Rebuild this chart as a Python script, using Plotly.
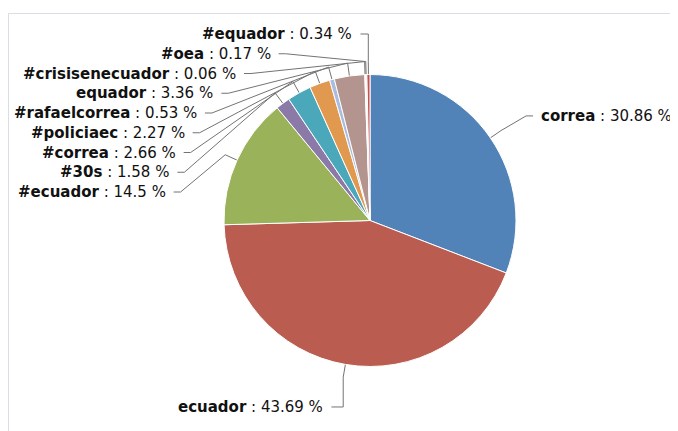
import math
import plotly.graph_objects as go

# ---- data ----
labels = ["correa", "ecuador", "#ecuador", "#30s", "#correa", "#policiaec",
          "#rafaelcorrea", "equador", "#crisisenecuador", "#oea", "#equador"]
values = [30.86, 43.69, 14.5, 1.58, 2.66, 2.27, 0.53, 3.36, 0.06, 0.17, 0.34]
value_text = ["30.86", "43.69", "14.5", "1.58", "2.66", "2.27", "0.53", "3.36", "0.06", "0.17", "0.34"]
colors = ["#5183B8", "#BA5C50", "#9AB35B", "#8B79A8", "#4AA8BA", "#E0994E",
          "#A9BDE0", "#B3948E", "#B5CA92", "#ECE8F0", "#C9514C"]

# ---- geometry (screen pixels; page body has an 8px margin) ----
W, H = 678, 431
OFF = 8
cx, cy, r = 370.0, 220.5, 146.0
R = r + 30.0          # label circle
spacing = 19.75
FONT = "DejaVu Sans"
FS = 15

total = sum(values)
mids = []
acc = 0.0
for v in values:
    mids.append((acc + v / 2) / total * 2 * math.pi)
    acc += v

def edge(theta, rad):
    return cx + rad * math.sin(theta), cy - rad * math.cos(theta)

info = []
for i, th in enumerate(mids):
    left = math.sin(th) < 0
    upper = math.cos(th) > 0
    anchor = cy - R * math.cos(th)
    yc = anchor - 5 if upper else anchor + 13
    info.append(dict(i=i, th=th, left=left, yc=yc))

# stack the crowded upper-left labels from the top down
left_items = sorted([d for d in info if d["left"] and d["yc"] < cy], key=lambda d: -d["th"])
prev = cy - R - 10.5 - spacing
for d in left_items:
    d["yc"] = max(d["yc"] - 10, prev + spacing)
    prev = d["yc"]

line_x, line_y = [], []
annotations = []
for d in info:
    th, yc = d["th"], d["yc"]
    a = yc + 5 - cy
    bx, by = edge(th, r)
    sx, sy = edge(th, r + 13)
    sign = -1 if d["left"] else 1
    if abs(a) < R:
        xl = cx + sign * (math.sqrt(R * R - a * a) + (28 if d["left"] else 24))
    else:
        xl = bx + sign * (14 if by < cy else 20)
    p0 = xl - sign * 6
    p1 = xl - sign * 13
    if abs(a) >= R:
        p1 = sx
    line_x += [p0, p1, sx, bx, None]
    line_y += [yc, yc, sy, by, None]
    i = d["i"]
    annotations.append(dict(
        x=xl, y=yc, xref="x", yref="y", showarrow=False,
        xanchor="right" if d["left"] else "left", yanchor="middle",
        text=f"<b>{labels[i]}</b> : {value_text[i]} %",
        font=dict(family=FONT, size=FS, color="#111111"),
    ))

# pie domain in figure-fraction coordinates (figure starts at OFF,OFF on screen)
pcx, pcy = cx - OFF, cy - OFF
fig = go.Figure()
fig.add_trace(go.Scatter(x=line_x, y=line_y, mode="lines",
                         line=dict(color="#737373", width=1),
                         hoverinfo="skip", showlegend=False))
fig.add_trace(go.Pie(
    labels=labels, values=values, sort=False, direction="clockwise", rotation=0,
    textinfo="none", hoverinfo="label+percent",
    marker=dict(colors=colors, line=dict(color="#ffffff", width=1)),
    domain=dict(x=[(pcx - r) / W, (pcx + r) / W], y=[(H - pcy - r) / H, (H - pcy + r) / H]),
    showlegend=False,
))

fig.update_layout(
    width=W, height=H, margin=dict(l=0, r=0, t=0, b=0),
    paper_bgcolor="white", plot_bgcolor="rgba(0,0,0,0)",
    xaxis=dict(range=[OFF, W + OFF], visible=False, fixedrange=True),
    yaxis=dict(range=[H + OFF, OFF], visible=False, fixedrange=True),
    annotations=annotations,
    shapes=[
        dict(type="line", xref="x", yref="y", x0=8.5, y0=13.5, x1=W + OFF, y1=13.5,
             line=dict(color="#dcdce6", width=1), layer="below"),
        dict(type="line", xref="x", yref="y", x0=8.5, y0=13.5, x1=8.5, y1=H + OFF,
             line=dict(color="#dcdce6", width=1), layer="below"),
    ],
)

fig.write_html("out.html")
